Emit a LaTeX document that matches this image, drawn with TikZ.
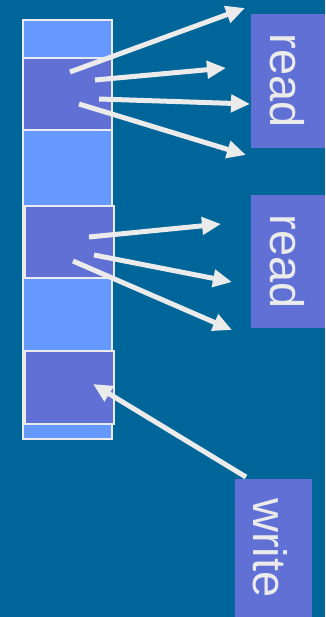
\documentclass[tikz,border=0pt]{standalone}
\usepackage{fontspec}
\setmainfont{Liberation Sans}
\usetikzlibrary{arrows.meta}
\definecolor{bg}{RGB}{0,102,153}
\definecolor{lightcell}{RGB}{102,153,255}
\definecolor{darkcell}{RGB}{96,112,212}
\definecolor{fg}{RGB}{235,235,235}
\tikzset{
  cell/.style={draw=fg, line width=1.6pt, inner sep=0pt, anchor=north west},
  labelbox/.style={fill=darkcell, inner sep=0pt, anchor=north west},
  labeltext/.style={text=fg, font=\fontsize{47}{47}\selectfont, rotate=-90, inner sep=0pt},
  ptr/.style={draw=fg, line width=5pt, -{Triangle[length=19pt,width=17pt]}, shorten >=0pt}
}
\begin{document}
\begin{tikzpicture}[x=1pt,y=-1pt]
\useasboundingbox (0,0) rectangle (325,617);
\fill[bg] (0,0) rectangle (325,617);
% column
\node[cell, fill=lightcell, minimum width=89pt, minimum height=419pt] (col) at (22,19) {};
\node[cell, fill=darkcell, minimum width=89pt, minimum height=72pt] (c1) at (22,57) {};
\node[cell, fill=darkcell, minimum width=89pt, minimum height=72pt] (c2) at (24,205) {};
\node[cell, fill=darkcell, minimum width=89pt, minimum height=73pt] (c3) at (24,350) {};
% label boxes
\node[labelbox, minimum width=74pt, minimum height=134pt] (r1) at (251,14) {};
\node[labeltext] (t1) at (287,81) {read};
\node[labelbox, minimum width=74pt, minimum height=133pt] (r2) at (251,195) {};
\node[labeltext] (t2) at (287,262) {read};
\node[labelbox, minimum width=77pt, minimum height=140pt] (w) at (235,479) {};
\node[labeltext] (t3) at (270,548) {write};
% arrow coordinates
\coordinate (s1) at (70,72);   \coordinate (e1) at (245,8);
\coordinate (s2) at (95,80);   \coordinate (e2) at (226,68);
\coordinate (s3) at (99,99);   \coordinate (e3) at (250,104);
\coordinate (s4) at (79,104);  \coordinate (e4) at (246,155);
\coordinate (s5) at (89,237);  \coordinate (e5) at (221,224);
\coordinate (s6) at (94,255);  \coordinate (e6) at (232,282);
\coordinate (s7) at (73,261);  \coordinate (e7) at (232,330);
\coordinate (s8) at (246,477); \coordinate (e8) at (93,384);
\foreach \i in {1,...,8} { \draw[ptr] (s\i) -- (e\i); }
\end{tikzpicture}
\end{document}
